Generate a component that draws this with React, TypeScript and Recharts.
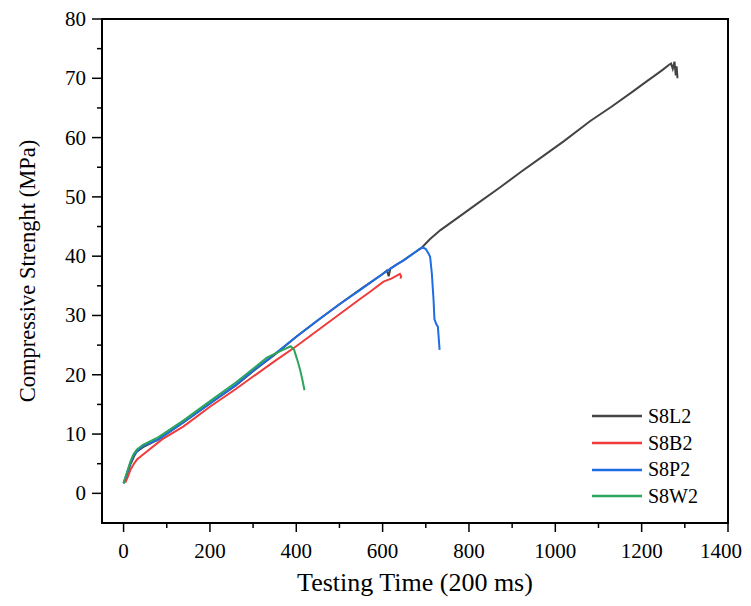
import React from 'react';
import { LineChart, Line, XAxis, YAxis, Legend, ReferenceArea, Label } from 'recharts';

// S8L2
const l2Time = [0, 8, 16, 24, 30, 45, 81, 139, 201, 260, 300, 350, 400, 450, 500, 550, 600, 610, 614, 618, 650, 672, 690, 710, 734, 780, 820, 870, 920, 970, 1020, 1081, 1130, 1180, 1210, 1235, 1250, 1262, 1268, 1272, 1276, 1279, 1281, 1283];
const l2Strength = [1.7, 3.2, 4.9, 6.2, 7.0, 7.8, 9.1, 12.0, 15.2, 18.2, 20.6, 23.4, 26.4, 29.2, 31.9, 34.5, 37.0, 37.6, 36.6, 37.9, 39.4, 40.5, 41.4, 42.9, 44.4, 46.8, 48.9, 51.5, 54.2, 56.8, 59.4, 62.8, 65.2, 67.8, 69.4, 70.7, 71.5, 72.2, 72.5, 71.6, 72.8, 70.5, 72.0, 70.0];

// S8B2
const b2Time = [4, 10, 16, 24, 31, 46, 89, 139, 200, 260, 300, 350, 400, 450, 500, 550, 571, 602, 620, 635, 640, 643, 641];
const b2Strength = [1.8, 2.8, 4.0, 5.0, 5.7, 6.6, 9.1, 11.3, 14.6, 17.6, 19.7, 22.3, 24.8, 27.5, 30.2, 32.9, 34.0, 35.7, 36.2, 36.8, 37.0, 36.6, 36.2];

// S8P2
const p2Time = [0, 8, 16, 24, 32, 45, 81, 139, 201, 260, 300, 350, 400, 450, 500, 550, 571, 600, 630, 649, 672, 685, 693, 700, 706, 710, 714, 718, 720, 724, 728, 732];
const p2Strength = [1.7, 3.4, 5.2, 6.5, 7.2, 8.0, 9.1, 12.0, 15.2, 18.3, 20.7, 23.5, 26.4, 29.2, 31.9, 34.4, 35.5, 37.0, 38.5, 39.3, 40.5, 41.2, 41.5, 41.2, 40.5, 39.9, 37.1, 32.6, 29.4, 28.6, 28.1, 24.2];

// S8W2
const w2Time = [0, 8, 16, 23, 31, 45, 81, 139, 201, 260, 300, 332, 363, 387, 395, 402, 409, 414, 419];
const w2Strength = [1.7, 3.6, 5.4, 6.6, 7.4, 8.2, 9.5, 12.3, 15.6, 18.7, 21.0, 22.9, 24.0, 24.8, 24.2, 22.6, 20.8, 19.2, 17.4];

const xTicks = [0, 100, 200, 300, 400, 500, 600, 700, 800, 900, 1000, 1100, 1200, 1300, 1400];
const yTicks = [0, 5, 10, 15, 20, 25, 30, 35, 40, 45, 50, 55, 60, 65, 70, 75, 80];

const toPoints = (t: number[], v: number[]) => t.map((x, i) => ({ t: x, v: v[i] }));

const series = [
  { name: 'S8L2', color: '#444444', data: toPoints(l2Time, l2Strength) },
  { name: 'S8B2', color: '#ef3b3b', data: toPoints(b2Time, b2Strength) },
  { name: 'S8P2', color: '#1f6de4', data: toPoints(p2Time, p2Strength) },
  { name: 'S8W2', color: '#2ca55c', data: toPoints(w2Time, w2Strength) },
];

const FONT = '"Liberation Serif", "Times New Roman", serif';

const XTick = (props: any) => {
  const { x, y, payload } = props;
  const major = payload.value % 200 === 0;
  const last = payload.value === 1400;
  return (
    <g>
      <line x1={x} y1={y} x2={x} y2={y + (major ? 9 : 5)} stroke="#000" strokeWidth={1.5} />
      {major && (
        <text
          x={last ? x + 14 : x}
          y={y + 35}
          textAnchor={last ? 'end' : 'middle'}
          fontFamily={FONT}
          fontSize={21}
          fill="#000"
        >
          {payload.value}
        </text>
      )}
    </g>
  );
};

const YTick = (props: any) => {
  const { x, y, payload } = props;
  const major = payload.value % 10 === 0;
  return (
    <g>
      <line x1={x - (major ? 10 : 5)} y1={y} x2={x} y2={y} stroke="#000" strokeWidth={1.5} />
      {major && (
        <text x={x - 16} y={y + 7} textAnchor="end" fontFamily={FONT} fontSize={21} fill="#000">
          {payload.value}
        </text>
      )}
    </g>
  );
};

// legend drawn from the series list so the order stays as plotted
const LegendBox = () => (
  <div style={{ fontFamily: FONT, fontSize: 20 }}>
    {series.map((s) => (
      <div key={s.name} style={{ display: 'flex', alignItems: 'center', height: 26.7 }}>
        <svg width={56} height={10}>
          <line x1={0} y1={5} x2={50} y2={5} stroke={s.color} strokeWidth={2.5} />
        </svg>
        <span style={{ color: '#000' }}>{s.name}</span>
      </div>
    ))}
  </div>
);

export default function App() {
  return (
    <LineChart width={735} height={590} margin={{ top: 11, right: 15, bottom: 3, left: 34 }}>
      <XAxis
        type="number"
        dataKey="t"
        domain={[-50, 1400]}
        ticks={xTicks}
        interval={0}
        axisLine={false}
        tickLine={false}
        tickSize={0}
        tickMargin={0}
        height={72}
        tick={<XTick />}
        allowDataOverflow
      >
        <Label
          content={(p: any) => (
            <text
              x={p.viewBox.x + p.viewBox.width / 2}
              y={p.viewBox.y + p.viewBox.height - 4}
              textAnchor="middle"
              fontFamily={FONT}
              fontSize={26}
              fill="#000"
            >
              Testing Time (200 ms)
            </text>
          )}
        />
      </XAxis>
      <YAxis
        type="number"
        dataKey="v"
        domain={[-5, 80]}
        ticks={yTicks}
        interval={0}
        axisLine={false}
        tickLine={false}
        tickSize={0}
        tickMargin={0}
        width={60}
        tick={<YTick />}
        allowDataOverflow
      >
        <Label
          content={(p: any) => {
            const cx = 19;
            const cy = p.viewBox.y + p.viewBox.height / 2;
            return (
              <text
                x={cx}
                y={cy}
                transform={`rotate(-90, ${cx}, ${cy})`}
                textAnchor="middle"
                dominantBaseline="central"
                fontFamily={FONT}
                fontSize={22.5}
                fill="#000"
              >
                Compressive Strenght (MPa)
              </text>
            );
          }}
        />
      </YAxis>
      <ReferenceArea x1={-50} x2={1400} y1={-5} y2={80} fill="none" stroke="#000" strokeWidth={2} />
      {series.map((s) => (
        <Line
          key={s.name}
          data={s.data}
          dataKey="v"
          name={s.name}
          type="linear"
          stroke={s.color}
          strokeWidth={2}
          dot={false}
          isAnimationActive={false}
        />
      ))}
      <Legend
        layout="vertical"
        align="center"
        verticalAlign="middle"
        content={<LegendBox />}
        wrapperStyle={{ left: 584, top: 395, width: 130 }}
      />
    </LineChart>
  );
}
